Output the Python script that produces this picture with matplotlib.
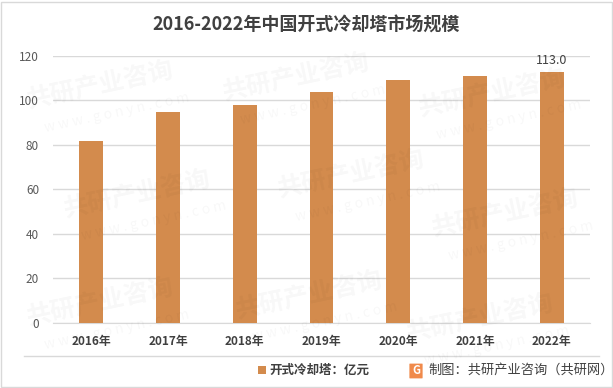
import matplotlib
matplotlib.use("Agg")
import matplotlib.pyplot as plt
from matplotlib.patches import Rectangle, FancyBboxPatch
from matplotlib.lines import Line2D

plt.rcParams['font.family'] = ['Noto Sans CJK SC', 'DejaVu Sans']

years = ["2016年", "2017年", "2018年", "2019年", "2020年", "2021年", "2022年"]
market = [81.6, 94.6, 97.8, 104.0, 109.4, 111.2, 113.0]
yticks = [0, 20, 40, 60, 80, 100, 120]

bar_color = "#D38B4D"
text_color = "#595959"

fig = plt.figure(figsize=(6.13, 3.88), dpi=100)
ax = fig.add_axes([53 / 613, 1 - 322.5 / 388, 537 / 613, (322.5 - 56) / 388])

# faint watermarks
for (wx, wy) in [(0.04, 0.78), (0.36, 0.80), (0.68, 0.76), (0.10, 0.50), (0.45, 0.55),
                 (0.70, 0.45), (0.04, 0.22), (0.38, 0.24), (0.66, 0.18)]:
    fig.text(wx, wy, "共研产业咨询", fontsize=18, fontweight="bold", color="#000000",
             alpha=0.03, rotation=12, ha="left", va="center")
    fig.text(wx + 0.03, wy - 0.07, "w w w . g o n y n . c o m", fontsize=10,
             color="#000000", alpha=0.03, rotation=12, ha="left", va="center")

x = range(len(years))
ax.bar(x, market, width=0.31, color=bar_color, zorder=3)
ax.text(x[-1], market[-1] + 2, f"{market[-1]:.1f}", ha="center", va="bottom",
        fontsize=9, color="#404040")

ax.set_xlim(-0.5, len(years) - 0.5)
ax.set_ylim(0, 120)
ax.set_yticks(yticks)
ax.set_yticklabels([str(v) for v in yticks], fontsize=8.5, color=text_color)
ax.set_xticks(list(x))
ax.set_xticklabels(years, fontsize=8.5, color="#404040", fontweight="bold")
ax.tick_params(axis="both", length=0)
ax.tick_params(axis="x", pad=9)
ax.tick_params(axis="y", pad=10)
ax.grid(axis="y", color="#D9D9D9", linewidth=1, zorder=0)
for s in ["top", "right", "left"]:
    ax.spines[s].set_visible(False)
ax.spines["bottom"].set_color("#D9D9D9")
ax.patch.set_alpha(0)

fig.text(0.5, 1 - 25 / 388, "2016-2022年中国开式冷却塔市场规模", ha="center", va="center",
         fontsize=13, fontweight="bold", color="#404040")

# separator line above legend row
fig.add_artist(Line2D([24 / 613, 599 / 613], [1 - 356 / 388, 1 - 356 / 388],
                      color="#D9D9D9", linewidth=1))

# legend
fig.add_artist(Rectangle((258 / 613, 1 - 374 / 388), 8 / 613, 8 / 388,
                         facecolor=bar_color, edgecolor="none"))
fig.text(269 / 613, 1 - 370 / 388, "开式冷却塔：亿元", ha="left", va="center",
         fontsize=9, color="#404040", fontweight="bold")

# source logo + credit
fig.add_artist(FancyBboxPatch((410 / 613, 1 - 378 / 388), 12 / 613, 14 / 388,
                              boxstyle="round,pad=0.001", facecolor="#F08A4B",
                              edgecolor="none"))
fig.text(416 / 613, 1 - 371 / 388, "G", ha="center", va="center", fontsize=8,
         color="white", fontweight="bold")
fig.text(428 / 613, 1 - 370 / 388, "制图：共研产业咨询（共研网）", ha="left", va="center",
         fontsize=9.5, color="#404040", fontweight="medium")

# outer border
fig.add_artist(Rectangle((1.5 / 613, 1.5 / 388), 610 / 613, 385 / 388, fill=False,
                         edgecolor="#D9D9D9", linewidth=1))

fig.savefig("out.png", dpi=100)
